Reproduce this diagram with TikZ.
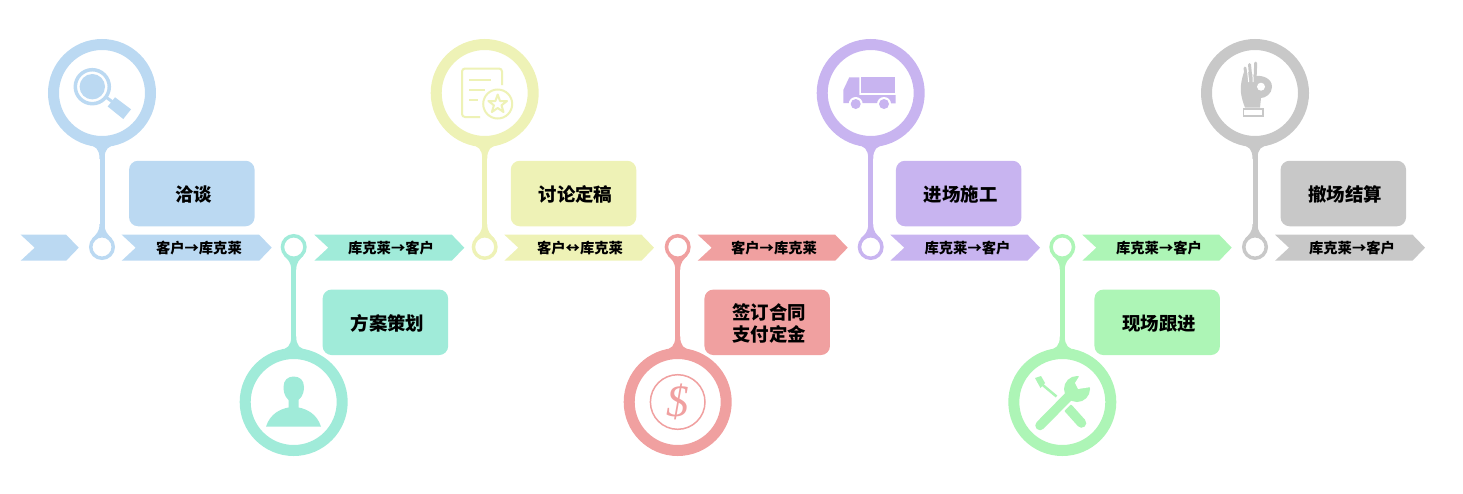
\documentclass[tikz,border=0pt]{standalone}
\usepackage{fontspec}
\setmainfont{Noto Sans CJK SC}
\newfontfamily\dollarfont{Liberation Serif}
\usetikzlibrary{backgrounds,calc}
\definecolor{cblue}{HTML}{BBD9F2}
\definecolor{cteal}{HTML}{A0EBD9}
\definecolor{cyell}{HTML}{EEF2B6}
\definecolor{cred}{HTML}{F0A0A0}
\definecolor{cpurp}{HTML}{C8B4F0}
\definecolor{cgreen}{HTML}{ADF5B6}
\definecolor{cgray}{HTML}{C8C8C8}
\tikzset{
  bigring/.style={circle,draw=#1,fill=white,line width=11pt,minimum size=97pt,inner sep=0pt,outer sep=0pt},
  smallring/.style={circle,draw=#1,fill=white,line width=3.5pt,minimum size=22.5pt,inner sep=0pt,outer sep=0pt},
  labelbox/.style={fill=#1,rounded corners=9pt,minimum width=125.5pt,minimum height=65.5pt,inner sep=0pt},
  labeltext/.style={align=center,inner sep=0pt,font=\fontsize{18.4}{22}\selectfont\bfseries},
  chevtext/.style={font=\fontsize{14.3}{16}\selectfont\bfseries,inner sep=0pt},
  stemline/.style={line width=5pt,draw=#1},
}
\newcommand{\PinItem}[6]{% name, x, ybig, ysmall, sign, colour
  \node[bigring=#6] (big#1) at (#2,#3) {};
  \node[smallring=#6] (small#1) at (#2,#4) {};
  \begin{pgfonlayer}{background}
    \draw[stemline=#6] (big#1.center) -- (small#1.center);
    \fill[#6,shift={(big#1.center)},yscale=#5] (-15,51.5) .. controls (-6,53) and (-2.5,56) .. (-2.5,66)
       -- (2.5,66) .. controls (2.5,56) and (6,53) .. (15,51.5) -- cycle;
    \fill[#6,shift={(small#1.center)},yscale=-#5] (-10,8.5) .. controls (-6,12.5) and (-2.5,15) .. (-2.5,23)
       -- (2.5,23) .. controls (2.5,15) and (6,12.5) .. (10,8.5) -- cycle;
  \end{pgfonlayer}
}
\newcommand{\LabelBox}[5]{% name, x, y, colour, text
  \node[labelbox=#4] (#1) at (#2,#3) {};
  \node[labeltext] (#1text) at (#2+2,#3+1) {#5};
}
\newcommand{\Chev}[6]{% name, x0, tip, colour, text-x, text
  \fill[#4] (#2,234.7) -- (#3-12.5,234.7) -- (#3,247.7) -- (#3-12.5,260.7) -- (#2,260.7) -- (#2+14,247.7) -- cycle;
  \node[chevtext] (#1) at (#5,247.7) {#6};
}
\begin{document}
\begin{tikzpicture}[x=1pt,y=-1pt]
\path[use as bounding box] (0,0) rectangle (1463,493);

\PinItem{a}{102}{93}{247}{1}{cblue}
\PinItem{b}{293.7}{402}{247}{-1}{cteal}
\PinItem{c}{484.7}{93}{247}{1}{cyell}
\PinItem{d}{677.7}{402}{247}{-1}{cred}
\PinItem{e}{870.7}{93}{247}{1}{cpurp}
\PinItem{f}{1062.3}{402}{247}{-1}{cgreen}
\PinItem{g}{1255}{93}{247}{1}{cgray}

\LabelBox{la}{191.8}{193.5}{cblue}{洽谈}
\LabelBox{lb}{385.4}{322.3}{cteal}{方案策划}
\LabelBox{lc}{573.5}{193.5}{cyell}{讨论定稿}
\LabelBox{ld}{767.2}{322.3}{cred}{签订合同\\支付定金}
\LabelBox{le}{958.7}{193.5}{cpurp}{进场施工}
\LabelBox{lf}{1157.2}{322.3}{cgreen}{现场跟进}
\LabelBox{lg}{1343.3}{193.5}{cgray}{撤场结算}

\Chev{ch0}{20.7}{78.7}{cblue}{50}{}
\Chev{ch1}{121.7}{271.7}{cblue}{198.9}{客户→库克莱}
\Chev{ch2}{314.3}{464.3}{cteal}{391}{库克莱→客户}
\Chev{ch3}{504.3}{654}{cyell}{580}{客户↔库克莱}
\Chev{ch4}{697.7}{847.7}{cred}{774}{客户→库克莱}
\Chev{ch5}{890.3}{1040}{cpurp}{967.5}{库克莱→客户}
\Chev{ch6}{1082.3}{1231.7}{cgreen}{1159}{库克莱→客户}
\Chev{ch7}{1275}{1425}{cgray}{1352}{库克莱→客户}

% magnifier
\draw[cblue,line width=3.5pt] (92.3,86.7) circle (17);
\fill[cblue] (92.3,86.7) circle (12.7);
\draw[cblue,line width=3pt] (106.5,97.5) -- (112,101.5);
\fill[cblue] (115,97.3) -- (131,109.3) -- (123.3,119) -- (107.7,106.5) -- cycle;

% document with badge
\draw[cyell,line width=2pt,rounded corners=3pt] (480,117) -- (462,117) -- (462,68.5) -- (502,68.5) -- (502,85);
\draw[cyell,line width=2pt] (469,80) -- (491,80) (469,90) -- (485,90) (469,100) -- (478,100);
\draw[cyell,line width=2pt,fill=white] (497.7,104) circle (14.5);
\draw[cyell,line width=2pt,line join=round] (497.7,94.5) -- (500,101) -- (507,101) -- (501.5,105.3) -- (503.5,112)
  -- (497.7,108) -- (491.9,112) -- (493.9,105.3) -- (488.4,101) -- (495.4,101) -- cycle;

% person
\fill[cteal] (266,426.7) .. controls (270,414) and (280,409) .. (288.5,407.5) -- (288.5,400)
  .. controls (284,396) and (283.5,390) .. (283.5,387) .. controls (283.5,380) and (288,376.5) .. (293.7,376.5)
  .. controls (299.5,376.5) and (304,380) .. (304,387) .. controls (304,390) and (303.5,396) .. (298.5,400)
  -- (298.5,407.5) .. controls (307,409) and (317,414) .. (321,426.7) -- cycle;

% dollar
\draw[cred,line width=1.5pt] (677.7,402) circle (27.3);
\node[text=cred,inner sep=0pt,font=\fontsize{45}{45}\selectfont\dollarfont\itshape] (dollar) at (677.7,402) {\$};

% truck
\fill[cpurp] (843.3,103) -- (843.3,90) -- (849.3,77.3) -- (859.3,77.3) -- (859.3,95) -- (895.7,95) -- (895.7,103.3) -- cycle;
\fill[cpurp] (861.3,77.3) rectangle (894.7,92.7);
\fill[white] (855.7,104) circle (7) (884,104) circle (7);
\fill[cpurp] (855.7,104) circle (5) (884,104) circle (5);

% tools
\draw[cgreen,line width=2.5pt] (1038.5,381.5) -- (1056.5,396.5);
\fill[cgreen] (1035,378) -- (1041,376) -- (1045,383) -- (1040.5,388) -- cycle;
\draw[cgreen,line width=9.5pt,line cap=round] (1068.5,408.5) -- (1081.5,423);
\draw[white,line width=13pt] (1056,410) -- (1072,394);
\draw[cgreen,line width=9.5pt,line cap=round] (1040,425.5) -- (1071,394);
\fill[cgreen] (1077,389) circle (13);
\fill[white] (1080,375) -- (1075,383) -- (1078,389) -- (1091,387) -- (1092,375) -- cycle;

% ok hand
\fill[cgray] (1245,107.5) .. controls (1242,100) and (1240,92) .. (1241,85) .. controls (1241.5,80) and (1243,75) .. (1244,72)
  -- (1250,72) -- (1255,76) .. controls (1262,75) and (1272,78) .. (1272,87)
  .. controls (1272,94) and (1265,98) .. (1261,98) -- (1260,107.5) -- cycle;
\fill[white] (1261,86.7) circle (4);
\draw[cgray,line width=3pt,line cap=round] (1246.5,78) -- (1245,68);
\draw[cgray,line width=3pt,line cap=round] (1251,80) -- (1249.5,64.5);
\draw[cgray,line width=3pt,line cap=round] (1255,80) -- (1255.7,63);
\draw[white,line width=1pt] (1248.7,82) -- (1247.2,68);
\draw[white,line width=1pt] (1253.2,82) -- (1252.5,66);
\draw[cgray,line width=1.6pt,fill=white] (1243.3,109) rectangle (1262.7,116);
\end{tikzpicture}
\end{document}
